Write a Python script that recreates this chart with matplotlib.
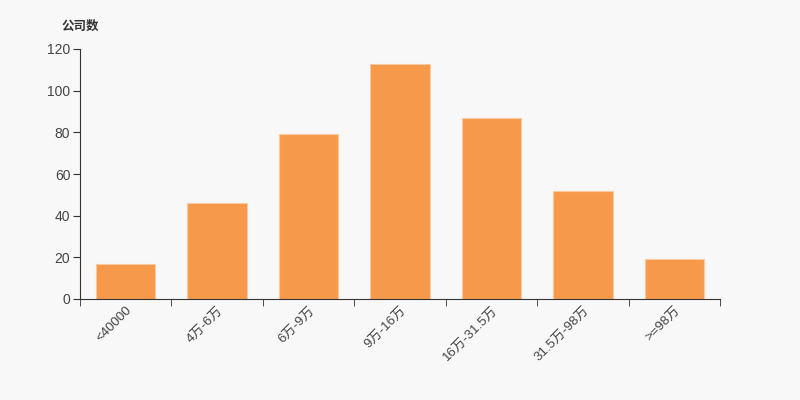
import matplotlib.pyplot as plt
import numpy as np

plt.rcParams['font.family'] = ['Liberation Sans', 'Noto Sans CJK SC', 'DejaVu Sans']

categories = ['<40000', '4万-6万', '6万-9万', '9万-16万', '16万-31.5万', '31.5万-98万', '>=98万']
counts = [17, 46, 79, 113, 87, 52, 19]

bg = '#f8f8f8'
axis_col = '#333333'
text_col = '#444444'

fig = plt.figure(figsize=(8, 4), dpi=100, facecolor=bg)
ax = fig.add_axes([0.1, 0.2525, 0.8, 0.625])
ax.set_facecolor(bg)

x = np.arange(len(categories))
ax.bar(x, counts, width=0.65, color='#f7994a', edgecolor='#fbc9a0', linewidth=0.8)

ax.set_xlim(-0.5, len(categories) - 0.5)
ax.set_ylim(0, 120)
ax.set_yticks(range(0, 121, 20))
ax.set_xticks(x)
ax.set_xticklabels(categories, rotation=45, ha='right', rotation_mode='anchor',
                   fontsize=9.5, color=text_col)
ax.set_xticks(np.arange(-0.5, len(categories)), minor=True)
ax.tick_params(axis='x', which='major', length=0, pad=4)
ax.tick_params(axis='x', which='minor', length=5, color=axis_col, direction='out')
ax.tick_params(axis='y', length=5, pad=2, color=axis_col, labelsize=10, labelcolor=text_col)

for s in ['top', 'right']:
    ax.spines[s].set_visible(False)
for s in ['left', 'bottom']:
    ax.spines[s].set_color(axis_col)

fig.text(0.1, 0.932, '公司数', ha='center', va='center', fontsize=9,
         fontweight='bold', color=axis_col)

fig.savefig('out.png', dpi=100, facecolor=bg)
